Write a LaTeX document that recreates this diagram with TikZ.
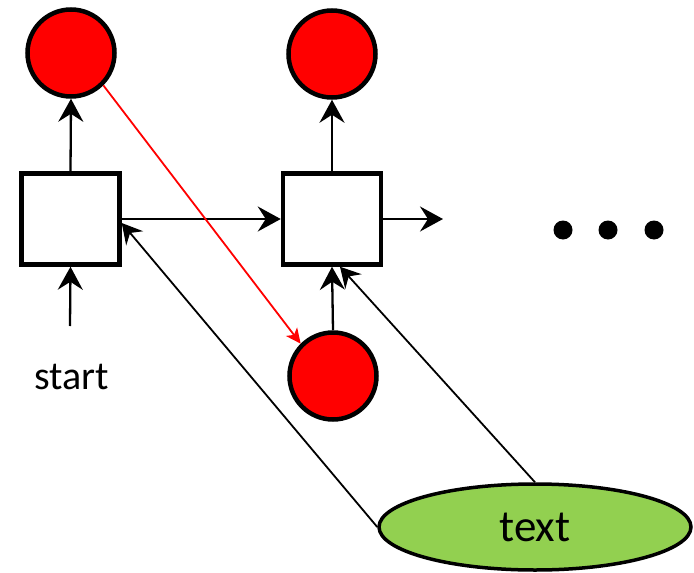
\documentclass[tikz,border=0pt]{standalone}
\usepackage{fontspec}
\setmainfont{Carlito}
\usetikzlibrary{arrows.meta,shapes.geometric}
\definecolor{leafgreen}{HTML}{92D050}
\begin{document}
\begin{tikzpicture}[x=1pt,y=-1pt,
  box/.style={draw,line width=4.5pt,fill=white,minimum width=98pt,minimum height=91pt,inner sep=0pt},
  ball/.style={draw,circle,line width=4.5pt,fill=red,minimum size=87pt,inner sep=0pt},
  arr/.style={line width=2.3pt,-{Stealth[length=23pt,width=25pt,inset=8pt]}},
  thin/.style={line width=1.8pt,-{Stealth[length=20pt,width=22pt,inset=7pt]}},
  dot/.style={circle,fill=black,minimum size=19pt,inner sep=0pt}]
\useasboundingbox (0,0) rectangle (694,573);
\node[box] (sq1) at (70.5,219) {};
\node[box] (sq2) at (332,219) {};
\node[ball] (c1) at (71,53) {};
\node[ball] (c2) at (332,54) {};
\node[ball] (c3) at (333,376) {};
\node[draw,ellipse,line width=3.5pt,fill=leafgreen,minimum width=312pt,minimum height=86pt,inner sep=0pt] (ell) at (535,527) {\fontsize{45}{50}\selectfont text};
\node (start) at (72,377) {\fontsize{40}{46}\selectfont start};
\coordinate (s0) at (70,326);
\coordinate (out) at (443,219);
\node[dot] (d1) at (563,230) {};
\node[dot] (d2) at (608,230) {};
\node[dot] (d3) at (654,230) {};
\draw[arr] (sq1.north) -- (c1.south);
\draw[arr] (sq2.north) -- (c2.south);
\draw[arr] (s0) -- (sq1.south);
\draw[arr] (sq1.east) -- (sq2.west);
\draw[arr] (sq2.east) -- (out);
\draw[arr] (c3.north) -- (sq2.south);
\draw[thin] (ell.west) -- ([yshift=-4pt]sq1.east);
\draw[thin] (ell.north) -- ([xshift=8pt]sq2.south);
\draw[red,line width=1.8pt,-{Stealth[length=15pt,width=14pt,inset=4pt]}] (c1.south east) -- (c3.north west);
\end{tikzpicture}
\end{document}
